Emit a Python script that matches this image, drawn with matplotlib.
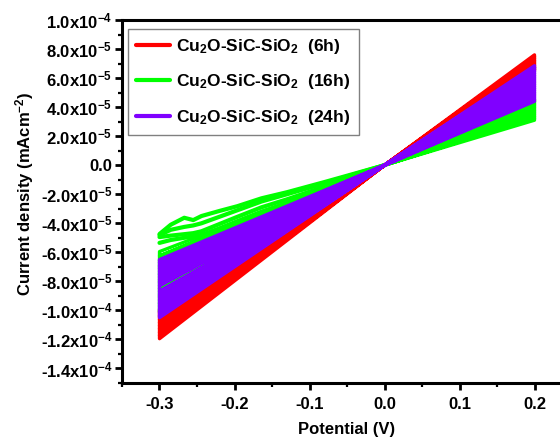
"""Cyclic voltammograms of Cu2O-SiC-SiO2 films for three deposition times."""
import numpy as np
import matplotlib
matplotlib.use('Agg')
import matplotlib.pyplot as plt
from matplotlib.ticker import FuncFormatter, MultipleLocator

plt.rcParams['font.family'] = 'Liberation Sans'
plt.rcParams['font.weight'] = 'bold'
plt.rcParams['axes.unicode_minus'] = False
plt.rcParams['mathtext.fontset'] = 'custom'
plt.rcParams['mathtext.rm'] = 'Liberation Sans:bold'
plt.rcParams['mathtext.it'] = 'Liberation Sans:bold'
plt.rcParams['mathtext.bf'] = 'Liberation Sans:bold'

RED = '#ff0000'
GREEN = '#00ff00'
PURPLE = '#8000ff'

# scan window and the common crossing point (V, A)
E_LOW, E_HIGH = -0.3, 0.2
E_ZERO, I_ZERO = 0.0, 0.0
SCALE = 1e-5  # currents below are in units of 1e-5

labels = ['Cu$_{2}$O-SiC-SiO$_{2}$  (6h)',
          'Cu$_{2}$O-SiC-SiO$_{2}$  (16h)',
          'Cu$_{2}$O-SiC-SiO$_{2}$  (24h)']

# turning-point currents of each cycle, at E_HIGH (anodic) and E_LOW (cathodic)
red_anodic = [7.60, 7.47, 7.37, 7.22, 7.11, 6.98, 6.89, 6.75, 6.63, 6.52]
red_cathodic = [-11.95, -11.72, -11.51, -11.27, -11.06, -10.85, -10.61, -10.40, -10.18, -9.96]

green_anodic = [4.50, 4.37, 4.21, 4.08, 3.95, 3.79, 3.66, 3.52, 3.37, 3.24, 3.10]
green_cathodic = [-5.95, -6.25, -6.55, -7.00, -7.50, -8.00, -8.50, -9.00, -9.55, -10.05, -10.10]

purple_anodic = [6.85, 6.72, 6.60, 6.46, 6.33, 6.19, 6.07, 5.94, 5.80, 5.68,
                 5.55, 5.41, 5.29, 5.16, 5.02, 4.90, 4.77, 4.63, 4.51, 4.40]
purple_cathodic = [-6.50, -6.70, -6.90, -7.10, -7.30, -7.50, -7.70, -7.90, -8.10, -8.30,
                   -8.68, -8.88, -9.08, -9.29, -9.49, -9.70, -9.91, -10.12, -10.33, -10.50]

# first cathodic sweeps of the 16h film (they wander before settling)
green_sweep_E = [-0.300, -0.285, -0.267, -0.255, -0.244, -0.220, -0.196, -0.164, -0.130, -0.080, -0.040, 0.0]
green_sweeps = [
    [-4.74, -4.10, -3.62, -3.78, -3.50, -3.15, -2.82, -2.28, -1.86, -1.16, -0.58, 0.0],
    [-4.82, -4.45, -4.25, -4.15, -4.00, -3.55, -3.10, -2.50, -2.00, -1.25, -0.62, 0.0],
    [-4.95, -4.85, -4.75, -4.68, -4.55, -4.05, -3.55, -2.90, -2.35, -1.47, -0.74, 0.0],
    [-5.35, -5.15, -5.00, -4.90, -4.80, -4.35, -3.85, -3.20, -2.60, -1.62, -0.81, 0.0],
]


def cycle_trace(anodic, cathodic):
    """Join successive cycles into one continuous potential/current trace."""
    E, I = [], []
    for k in range(len(anodic) - 1):
        E += [E_ZERO, E_HIGH, E_HIGH, E_ZERO, E_LOW, E_LOW, E_ZERO]
        I += [I_ZERO, anodic[k], anodic[k + 1], I_ZERO, cathodic[k], cathodic[k + 1], I_ZERO]
    return np.array(E), np.array(I) * SCALE


def sci_label(v, pos):
    if abs(v) < 1e-12:
        return '0.0'
    exp = int(np.floor(np.log10(abs(v)) + 1e-9))
    mant = v / 10 ** exp
    return f'{mant:.1f}x10$^{{{exp}}}$'


fig = plt.figure(figsize=(5.6, 4.41), dpi=100)
ax = fig.add_axes([122 / 560, 58 / 441, 450 / 560, 363 / 441])

line_kw = dict(lw=2.4, solid_joinstyle='round', solid_capstyle='round')

E, I = cycle_trace(red_anodic, red_cathodic)
ax.plot(E, I, color=RED, label=labels[0], **line_kw)

E, I = cycle_trace(green_anodic, green_cathodic)
ax.plot(E, I, color=GREEN, label=labels[1], **line_kw)
for sweep in green_sweeps:
    ax.plot(green_sweep_E, np.array(sweep) * SCALE, color=GREEN, lw=3,
            solid_joinstyle='round', solid_capstyle='round')

E, I = cycle_trace(purple_anodic, purple_cathodic)
ax.plot(E, I, color=PURPLE, label=labels[2], **line_kw)

ax.set_xlim(-0.35, 0.25)
ax.set_ylim(-1.5e-4, 1.0e-4)
ax.xaxis.set_major_locator(MultipleLocator(0.1))
ax.xaxis.set_minor_locator(MultipleLocator(0.05))
ax.yaxis.set_major_locator(MultipleLocator(2e-5))
ax.yaxis.set_minor_locator(MultipleLocator(1e-5))
ax.xaxis.set_major_formatter(FuncFormatter(lambda v, p: f'{v:.1f}'))
ax.yaxis.set_major_formatter(FuncFormatter(sci_label))

for s in ax.spines.values():
    s.set_linewidth(2.2)
ax.tick_params(which='major', direction='out', length=5, width=2, labelsize=12, pad=2)
ax.tick_params(which='minor', direction='out', length=3, width=1.6)
ax.tick_params(axis='x', which='major', pad=5)

ax.set_xlabel('Potential (V)', fontsize=12, fontweight='bold', labelpad=7)
ax.set_ylabel('Current density (mAcm$^{-2}$)', fontsize=12, fontweight='bold')
ax.yaxis.set_label_coords(-0.19, 0.52)

leg = ax.legend(loc='upper left', bbox_to_anchor=(0.013, 0.975), borderaxespad=0,
                fontsize=12.5, handlelength=2.0, handletextpad=0.35, labelspacing=0.95,
                borderpad=0.45, fancybox=False, framealpha=1, edgecolor='gray')
leg.get_frame().set_linewidth(1.0)
for h in leg.get_lines():
    h.set_linewidth(3)

fig.savefig('out.png', dpi=100)
plt.close(fig)
